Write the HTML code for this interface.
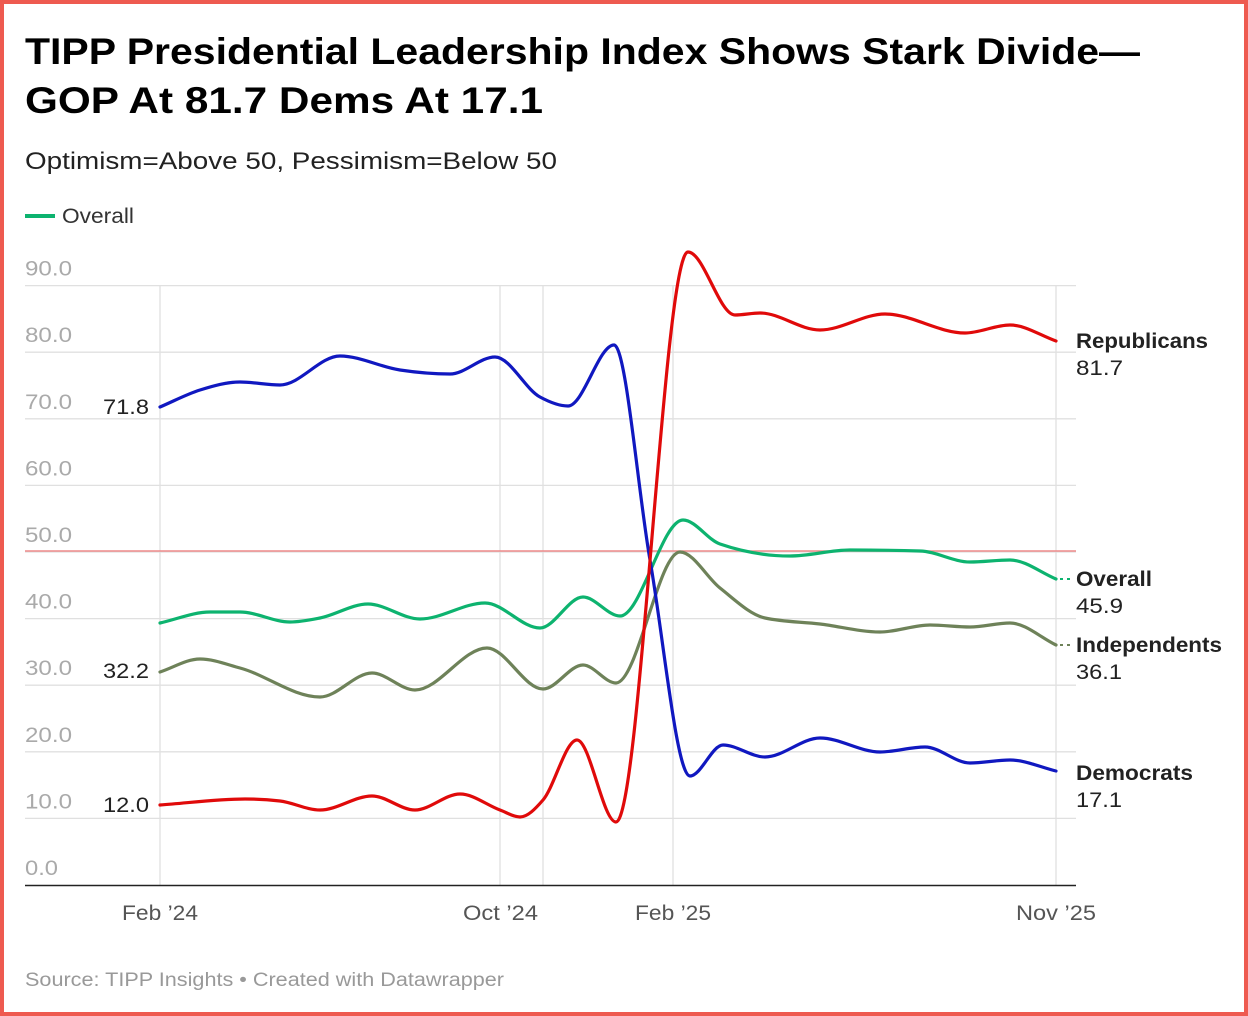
<!DOCTYPE html>
<html><head><meta charset="utf-8"><style>
html,body{margin:0;padding:0;background:#fff}
body{width:1248px;height:1016px;overflow:hidden;position:relative;font-family:"Liberation Sans",Arial,sans-serif}
.frame{position:absolute;left:0;top:0;width:1240px;height:1008px;border:4px solid #ee5a50}
svg{position:absolute;left:0;top:0}
</style></head><body>
<div class="frame"></div>
<svg width="1248" height="1016" xmlns="http://www.w3.org/2000/svg" font-family="Liberation Sans, Arial, sans-serif">
<text x="25" y="64" font-size="37" font-weight="bold" fill="#000" textLength="1115" lengthAdjust="spacingAndGlyphs">TIPP Presidential Leadership Index Shows Stark Divide—</text>
<text x="25" y="113" font-size="37" font-weight="bold" fill="#000" textLength="518" lengthAdjust="spacingAndGlyphs">GOP At 81.7 Dems At 17.1</text>
<text x="25" y="169" font-size="24" fill="#222" textLength="532" lengthAdjust="spacingAndGlyphs">Optimism=Above 50, Pessimism=Below 50</text>
<line x1="25" y1="216" x2="55" y2="216" stroke="#0db36f" stroke-width="4"/>
<text x="62" y="223" font-size="21" fill="#333" textLength="72" lengthAdjust="spacingAndGlyphs">Overall</text>
<g id="grid" stroke="#e0e0e0" stroke-width="1.3"></g>
<g font-size="21" fill="#aaa" id="ylab"></g>
<line x1="25" y1="551" x2="1076" y2="551" stroke="#ee8a8a" stroke-width="1.5"/>
<line x1="25" y1="885.5" x2="1076" y2="885.5" stroke="#222" stroke-width="1.5"/>
<g font-size="21" fill="#555">
<text x="122" y="920" textLength="76" lengthAdjust="spacingAndGlyphs">Feb ’24</text>
<text x="463" y="920" textLength="75" lengthAdjust="spacingAndGlyphs">Oct ’24</text>
<text x="635" y="920" textLength="76" lengthAdjust="spacingAndGlyphs">Feb ’25</text>
<text x="1016" y="920" textLength="80" lengthAdjust="spacingAndGlyphs">Nov ’25</text>
</g>
<g id="lines" fill="none" stroke-width="3.2" stroke-linecap="round"></g>
<line x1="1060" y1="579" x2="1070" y2="579" stroke="#0db36f" stroke-width="2" stroke-dasharray="3,4"/>
<line x1="1060" y1="645" x2="1070" y2="645" stroke="#6e8259" stroke-width="2" stroke-dasharray="3,4"/>
<g font-size="21" fill="#222">
<text x="103" y="414" textLength="46" lengthAdjust="spacingAndGlyphs">71.8</text>
<text x="103" y="678" textLength="46" lengthAdjust="spacingAndGlyphs">32.2</text>
<text x="103" y="812" textLength="46" lengthAdjust="spacingAndGlyphs">12.0</text>
<text x="1076" y="348" font-weight="bold" textLength="132" lengthAdjust="spacingAndGlyphs">Republicans</text><text x="1076" y="375" textLength="47" lengthAdjust="spacingAndGlyphs">81.7</text>
<text x="1076" y="586" font-weight="bold" textLength="76" lengthAdjust="spacingAndGlyphs">Overall</text><text x="1076" y="613" textLength="47" lengthAdjust="spacingAndGlyphs">45.9</text>
<text x="1076" y="652" font-weight="bold" textLength="146" lengthAdjust="spacingAndGlyphs">Independents</text><text x="1076" y="679" textLength="46" lengthAdjust="spacingAndGlyphs">36.1</text>
<text x="1076" y="780" font-weight="bold" textLength="117" lengthAdjust="spacingAndGlyphs">Democrats</text><text x="1076" y="807" textLength="46" lengthAdjust="spacingAndGlyphs">17.1</text>
</g>
<text x="25" y="986" font-size="19" fill="#999" textLength="479" lengthAdjust="spacingAndGlyphs">Source: TIPP Insights • Created with Datawrapper</text>
</svg>
<script>
var NS="http://www.w3.org/2000/svg";
var g=document.getElementById("grid"),yl=document.getElementById("ylab");
for(var v=10;v<=90;v+=10){var y=885-6.66*v;var l=document.createElementNS(NS,"line");l.setAttribute("x1",25);l.setAttribute("x2",1076);l.setAttribute("y1",y);l.setAttribute("y2",y);g.appendChild(l);}
[160,500,543,673,1056].forEach(function(x){var l=document.createElementNS(NS,"line");l.setAttribute("x1",x);l.setAttribute("x2",x);l.setAttribute("y1",286);l.setAttribute("y2",885);g.appendChild(l);});
for(var v=0;v<=90;v+=10){var t=document.createElementNS(NS,"text");t.setAttribute("x",25);t.setAttribute("y",885-6.66*v-10);t.setAttribute("textLength",v==0?33:47);t.setAttribute("lengthAdjust","spacingAndGlyphs");t.textContent=v.toFixed(1);yl.appendChild(t);}
function path(p){
 var n=p.length,dx=[],m=[],t=[];
 for(var i=0;i<n-1;i++){dx[i]=p[i+1][0]-p[i][0];m[i]=(p[i+1][1]-p[i][1])/dx[i];}
 t[0]=m[0];t[n-1]=m[n-2];
 for(var i=1;i<n-1;i++){
  if(m[i-1]*m[i]<=0)t[i]=0;
  else{var h0=dx[i-1],h1=dx[i];var s=(m[i-1]*h1+m[i]*h0)/(h0+h1);
   t[i]=(Math.sign(m[i-1])+Math.sign(m[i]))*Math.min(Math.abs(m[i-1]),Math.abs(m[i]),0.5*Math.abs(s));}
 }
 var d="M"+p[0][0]+","+p[0][1];
 for(var i=0;i<n-1;i++){var h=dx[i]/3;
  d+=" C"+(p[i][0]+h)+","+(p[i][1]+t[i]*h)+" "+(p[i+1][0]-h)+","+(p[i+1][1]-t[i+1]*h)+" "+p[i+1][0]+","+p[i+1][1];}
 return d;}
var S=[
["#6e8259",[[160,672],[200,659],[240,668],[320,697],[372,673],[415,690],[487,648],[543,689],[583,665],[616,683],[680,552],[720,588],[765,618],[820,624],[880,632],[930,625],[970,627],[1010,623],[1056,645]]],
["#0db36f",[[160,623],[210,612],[240,612],[290,622],[320,618],[368,604],[420,619],[485,603],[540,628],[583,597],[620,616],[683,520],[720,544],[790,556],[850,550],[920,551],[970,562],[1010,560],[1056,579]]],
["#1018c0",[[160,407],[200,390],[240,382],[280,385],[340,356],[400,370],[450,374],[495,357],[540,397],[568,406],[614,345],[650,560],[690,776],[723,745],[765,757],[820,738],[880,752],[925,747],[970,763],[1010,760],[1056,771]]],
["#e00a0a",[[160,805],[245,799],[280,801],[320,810],[372,796],[415,810],[460,794],[500,810],[520,817],[543,800],[577,740],[616,822],[688,252],[735,315],[760,313],[820,330],[885,314],[965,333],[1010,325],[1056,341]]]
];
var lg=document.getElementById("lines");
S.forEach(function(s){var p=document.createElementNS(NS,"path");p.setAttribute("d",path(s[1]));p.setAttribute("stroke",s[0]);lg.appendChild(p);});
</script>
</body></html>
